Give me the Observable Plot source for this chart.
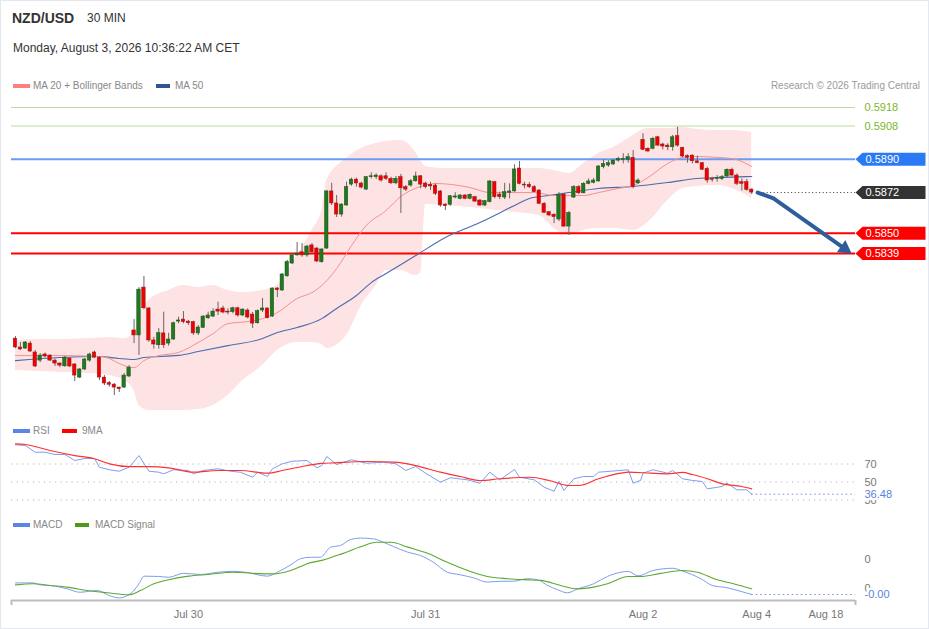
<!DOCTYPE html>
<html><head><meta charset="utf-8">
<script src="https://cdn.jsdelivr.net/npm/d3@7"></script>
<script src="https://cdn.jsdelivr.net/npm/@observablehq/plot@0.6"></script>
<style>
html,body{margin:0;padding:0;background:#fff;}
body{width:929px;height:629px;position:relative;overflow:hidden;font-family:"Liberation Sans",Arial,Helvetica,sans-serif;}
#frame{position:absolute;left:0;top:0;width:927px;height:627px;border:1px solid #e3e8ee;pointer-events:none;}
.abs{position:absolute;white-space:nowrap;line-height:14px;}
.panel{position:absolute;left:0;}
.panel svg{display:block;}
.sw{position:absolute;height:4px;}
.lt{position:absolute;font-size:10px;color:#888;line-height:12px;white-space:nowrap;}
</style></head>
<body>
<div id="frame"></div>
<div class="abs" style="left:12px;top:11px;font-size:14px;font-weight:bold;color:#333;">NZD/USD</div>
<div class="abs" style="left:87px;top:11px;font-size:12px;color:#333;">30 MIN</div>
<div class="abs" style="left:13px;top:41px;font-size:12px;color:#333;">Monday, August 3, 2026 10:36:22 AM CET</div>

<div id="main" class="panel" style="top:95px"></div>
<div id="rsi" class="panel" style="top:415px"></div>
<div id="macd" class="panel" style="top:505px"></div>

<div class="sw" style="left:13px;top:84px;width:17px;background:#ff7f7f"></div>
<div class="lt" style="left:33px;top:80px">MA 20 + Bollinger Bands</div>
<div class="sw" style="left:156px;top:84px;width:14px;background:#2f5597"></div>
<div class="lt" style="left:175px;top:80px">MA 50</div>
<div class="lt" style="right:9px;top:80px;color:#9a9a9a">Research © 2026 Trading Central</div>

<div class="sw" style="left:13px;top:429px;width:17px;background:#5b84e8"></div>
<div class="lt" style="left:33px;top:425px">RSI</div>
<div class="sw" style="left:62px;top:429px;width:15px;background:#ff0000"></div>
<div class="lt" style="left:82px;top:425px">9MA</div>

<div class="sw" style="left:13px;top:523px;width:17px;background:#5b84e8"></div>
<div class="lt" style="left:33px;top:519px">MACD</div>
<div class="sw" style="left:75px;top:523px;width:14px;background:#4c9a1a"></div>
<div class="lt" style="left:95px;top:519px">MACD Signal</div>

<script>
// ---------- candles (30 min) ----------
const openP = [
.57930,.57882,.57876,.57903,.57855,.57811,.57844,.57838,.57811,.57795,
.57780,.57822,.57790,.57719,.57763,.57811,.57855,.57827,.57719,.57689,
.57681,.57665,.57665,.57725,.57974,.57947,.58206,.58093,.57920,.57894,
.57958,.57903,.57925,.58022,.58033,.58022,.58019,.57958,.57988,.58040,
.58049,.58087,.58093,.58076,.58073,.58094,.58055,.58082,.58060,.58013,
.58082,.58093,.58049,.58201,.58190,.58267,.58336,.58380,.58397,.58380,
.58434,.58417,.58343,.58417,.58726,.58661,.58601,.58650,.58763,.58790,
.58769,.58736,.58803,.58803,.58808,.58808,.58794,.58770,.58803,.58749,
.58758,.58781,.58808,.58769,.58762,.58758,.58726,.58655,.58654,.58693,
.58686,.58704,.58686,.58695,.58677,.58650,.58668,.58776,.58709,.58693,
.58719,.58726,.58850,.58763,.58762,.58749,.58731,.58659,.58614,.58600,
.58574,.58709,.58536,.58693,.58749,.58716,.58767,.58773,.58780,.58857,
.58866,.58872,.58893,.58897,.58897,.58908,.58770,.59005,.58957,.58957,
.59019,.58980,.58974,.58965,.59025,.58962,.58917,.58920,.58889,.58879,
.58848,.58794,.58794,.58794,.58807,.58843,.58812,.58776,.58776,.58736];
const highP = [
.57941,.57909,.57914,.57914,.57865,.57849,.57852,.57844,.57819,.57800,
.57833,.57827,.57795,.57768,.57822,.57851,.57862,.57833,.57730,.57698,
.57687,.57667,.57741,.57784,.58033,.58206,.58266,.58098,.57937,.57985,
.58073,.57959,.58019,.58046,.58076,.58028,.58024,.58001,.58055,.58073,
.58091,.58127,.58105,.58091,.58100,.58100,.58091,.58091,.58071,.58085,
.58147,.58096,.58204,.58206,.58282,.58353,.58389,.58450,.58444,.58434,
.58444,.58424,.58417,.58731,.58770,.58704,.58659,.58776,.58798,.58798,
.58776,.58807,.58827,.58821,.58816,.58827,.58803,.58807,.58818,.58758,
.58790,.58830,.58812,.58776,.58776,.58767,.58731,.58659,.58704,.58719,
.58709,.58709,.58713,.58700,.58682,.58677,.58785,.58780,.58722,.58770,
.58767,.58870,.58888,.58776,.58774,.58758,.58736,.58666,.58617,.58605,
.58720,.58715,.58617,.58758,.58758,.58774,.58794,.58796,.58866,.58897,
.58893,.58897,.58911,.58930,.58930,.58947,.58794,.59038,.58962,.59019,
.59023,.58987,.58984,.59029,.59073,.58965,.58924,.58924,.58917,.58882,
.58857,.58803,.58812,.58812,.58848,.58852,.58821,.58794,.58791,.58740];
const lowP = [
.57876,.57865,.57871,.57855,.57773,.57800,.57825,.57806,.57779,.57773,
.57775,.57773,.57698,.57714,.57757,.57802,.57822,.57703,.57676,.57667,
.57622,.57638,.57660,.57719,.57903,.57839,.58087,.57910,.57873,.57873,
.57877,.57889,.57920,.58010,.58010,.58001,.57947,.57947,.57985,.58033,
.58044,.58055,.58064,.58058,.58064,.58046,.58049,.58037,.57985,.58008,
.58071,.58037,.58044,.58152,.58186,.58262,.58331,.58376,.58370,.58370,
.58389,.58340,.58338,.58412,.58650,.58585,.58587,.58646,.58754,.58749,
.58740,.58731,.58794,.58790,.58776,.58785,.58763,.58763,.58607,.58726,
.58749,.58776,.58740,.58740,.58731,.58704,.58641,.58623,.58646,.58686,
.58681,.58681,.58681,.58666,.58644,.58644,.58664,.58686,.58682,.58682,
.58686,.58722,.58762,.58740,.58742,.58719,.58655,.58607,.58590,.58552,
.58563,.58531,.58488,.58688,.58709,.58713,.58762,.58767,.58776,.58848,
.58857,.58866,.58884,.58875,.58879,.58740,.58763,.58947,.58938,.58951,
.58969,.58951,.58947,.58944,.58965,.58908,.58879,.58875,.58875,.58839,
.58770,.58776,.58776,.58785,.58801,.58807,.58758,.58728,.58726,.58709];
const closeP = [
.57882,.57871,.57909,.57860,.57779,.57838,.57833,.57811,.57795,.57784,
.57827,.57779,.57730,.57763,.57817,.57844,.57827,.57719,.57687,.57680,
.57665,.57656,.57730,.57773,.57947,.58195,.58094,.57920,.57898,.57959,
.57894,.57925,.58013,.58028,.58019,.58013,.57958,.57990,.58049,.58055,
.58076,.58076,.58071,.58071,.58094,.58055,.58087,.58044,.58011,.58078,
.58093,.58040,.58201,.58192,.58277,.58344,.58380,.58390,.58380,.58428,
.58397,.58347,.58412,.58726,.58661,.58601,.58655,.58749,.58790,.58769,
.58747,.58803,.58808,.58812,.58785,.58794,.58770,.58794,.58743,.58736,
.58781,.58807,.58763,.58749,.58753,.58713,.58650,.58646,.58700,.58699,
.58704,.58686,.58708,.58671,.58650,.58673,.58780,.58695,.58695,.58722,
.58726,.58845,.58767,.58758,.58749,.58722,.58659,.58610,.58596,.58587,
.58708,.58536,.58609,.58749,.58716,.58767,.58780,.58785,.58861,.58875,
.58879,.58893,.58902,.58902,.58911,.58749,.58785,.58951,.58942,.59011,
.58974,.58969,.58965,.59019,.58974,.58915,.58908,.58889,.58879,.58843,
.58785,.58789,.58798,.58803,.58843,.58812,.58767,.58767,.58735,.58720];

// ---------- Bollinger bands (sampled by candle index) ----------
const bandIdx = [0,5,10,15,19,22,24,25,27,31,34,37,40,43,46,50,53,57,60,62,63,67,70,73,75,78,81,82,83,87,94,101,106,109,112,115,118,121,125,128,132,135,138,142,145,149];
const bandUpper = [.57919,.57925,.57925,.57930,.57936,.57930,.57957,.58055,.58136,.58190,.58217,.58206,.58217,.58190,.58179,.58190,.58217,.58379,.58515,.58623,.58785,.58904,.58958,.58985,.58996,.59001,.58937,.58893,.58861,.58850,.58850,.58850,.58850,.58839,.58823,.58877,.58931,.58964,.59029,.59066,.59066,.59072,.59061,.59056,.59056,.59045];
const bandLower = [.57757,.57752,.57746,.57741,.57730,.57703,.57649,.57568,.57541,.57541,.57541,.57546,.57568,.57622,.57703,.57784,.57865,.57909,.57909,.57898,.57876,.57947,.58109,.58217,.58298,.58298,.58271,.58285,.58655,.58650,.58634,.58612,.58596,.58525,.58488,.58515,.58525,.58525,.58515,.58558,.58677,.58742,.58753,.58758,.58742,.58688];

const ma20Idx = [0,9,17,19,21,24,26,29,33,37,40,43,47,50,53,57,60,62,65,68,71,75,78,82,85,92,96,105,109,115,118,122,125,128,132,135,138,142,145,149];
const ma20Val = [.57838,.57838,.57833,.57822,.57795,.57773,.57811,.57838,.57855,.57909,.57957,.58011,.58022,.58038,.58071,.58147,.58179,.58217,.58309,.58433,.58542,.58623,.58699,.58753,.58769,.58747,.58720,.58720,.58704,.58704,.58720,.58742,.58758,.58801,.58877,.58910,.58915,.58910,.58904,.58861];

const ma50Idx = [0,9,17,21,24,26,33,37,43,50,53,57,62,65,69,72,75,81,87,94,101,104,108,112,118,125,132,138,142,149];
const ma50Val = [.57811,.57828,.57833,.57822,.57817,.57828,.57839,.57860,.57892,.57930,.57963,.57990,.58038,.58093,.58163,.58233,.58282,.58379,.58477,.58558,.58650,.58688,.58704,.58720,.58742,.58753,.58774,.58796,.58801,.58807];

// ---------- levels ----------
const greenLevels = [0.5918, 0.5908];
const resistanceLevel = 0.5890;
const currentPrice = 0.5872;
const supportLevels = [0.5850, 0.5839];

// ---------- forecast arrow ----------
const forecastIdx = [150.2, 153.4, 167.8];
const forecastVal = [0.5872, 0.58688, 0.58417];

// ---------- RSI ----------
const rsiLevels = [70, 50, 30];
const rsiIdx = [0,2,4,6,8,10,12,14,16,17,19,21,23,25,27,29,30,32,35,36,38,41,43.5,45.5,48,49,51,52,54,56,59,61,62,63,65,68,71,74.5,77,79,81,83,86,88,91.5,94,96,98,101,102,105,107,109,110,111,113,115,117,118,120.5,124,125,126.5,127,129,132,133,135,137,139,140,143,144,146,148,149];
const rsiVal = [91.3,90.6,83.1,83.1,80.6,80.6,73.9,76.1,76.1,66.4,63.6,62.0,66.4,79.4,62.0,60.9,59.1,63.6,62.8,59.1,62.8,64.7,62.0,60.9,55.3,60.9,56.1,64.7,70.2,73.1,73.9,65.8,68.3,78.3,69.4,74.7,70.9,72.0,70.2,62.8,67.2,59.8,49.8,54.7,52.4,48.7,60.9,52.4,63.9,55.3,52.4,44.2,39.8,50.9,40.6,53.6,56.1,56.1,60.9,62.0,63.6,48.7,51.7,59.8,63.6,59.8,62.8,53.6,51.7,50.6,42.4,45.0,48.7,41.3,41.3,36.48];
const rsiMaIdx = [0,2,7,12,16,19,23,27,31,36,41,45.5,51,54,58,62,64.5,71,76.5,81,86,90,94,98,104,108,112,114,118,122.5,124,128.5,132,135,137,140,143,147,149];
const rsiMaVal = [92.4,91.7,85.0,79.4,75.8,70.2,67.2,67.2,65.8,60.9,62.8,62.8,59.8,62.8,67.2,70.6,71.3,72.8,72.0,68.3,60.9,56.1,51.7,53.6,55.3,51.7,46.1,46.1,53.6,59.8,60.9,59.8,59.1,60.6,58.3,53.6,48.0,45.0,42.4];

// ---------- MACD ----------
const macdTicks = [0.001, 0];
const macdIdx = [0,3.6,5,7,10.5,13,16.6,19,21,23,25,26,29,31,34,37.5,41,44,47,49,51,53,55.7,57.7,59.7,61.7,63.8,65.8,67.8,69.8,72.5,74.5,76.5,79.4,82,84.6,87.4,90,92.7,95.5,98.2,100.8,103.6,105.7,107.7,109.7,111.7,113.8,117,119.8,122.5,124,126,129,133,135,138.7,141,144,146.8,149];
const macdVal = [.00018,.00018,.00011,.00009,-.00003,-.00015,-.00009,-.00027,-.00035,-.00024,.00015,.00042,.00041,.00038,.00052,.00048,.00056,.00059,.00055,.00047,.00042,.00056,.00082,.00104,.00109,.00109,.00145,.00151,.00172,.00177,.00174,.00162,.00147,.00127,.00115,.00091,.00056,.00047,.00036,.00021,.00024,.00024,.00033,.00029,.00009,-.00006,-.00017,-.00003,.00015,.00041,.00056,.00059,.00043,.00062,.00070,.00060,.00033,.00009,.00001,-.00012,-.00023];
const signalIdx = [0,3.6,7,10.5,14.6,18.6,23,25.3,28,31,35,39,44,48,52,55.7,57.7,59,62,66,70,73,76,79.4,83.4,87.4,91.5,95.5,99.6,103.6,106.3,110.3,113.8,117,119.8,124,126.5,130.6,135,138,142,145.3,149];
const signalVal = [.00011,.00015,.00009,.00003,-.00009,-.00017,-.00024,-.00009,.00015,.00029,.00042,.00048,.00056,.00052,.00050,.00062,.00076,.00086,.00098,.00121,.00147,.00162,.00162,.00145,.00123,.00091,.00062,.00041,.00033,.00029,.00027,.00009,-.00003,.00003,.00015,.00041,.00041,.00052,.00062,.00056,.00029,.00015,-.00003];

// ---------- time axis ----------
const tickIdx = [35, 83, 127, 150, 164];
const tickLabels = ["Jul 30", "Jul 31", "Aug 2", "Aug 4", "Aug 18"];

// ---------- build tables ----------
const candles = openP.map((o, i) => ({i, open: o, high: highP[i], low: lowP[i], close: closeP[i]}));
const up = candles.filter(d => d.close >= d.open);
const down = candles.filter(d => d.close < d.open);
const band = bandIdx.map((i, k) => ({i, upper: bandUpper[k], lower: bandLower[k]}));
const ma20 = ma20Idx.map((i, k) => ({i, v: ma20Val[k]}));
const ma50 = ma50Idx.map((i, k) => ({i, v: ma50Val[k]}));
const forecast = forecastIdx.map((i, k) => ({i, v: forecastVal[k]}));
const rsi = rsiIdx.map((i, k) => ({i, v: rsiVal[k]}));
const rsiMa = rsiMaIdx.map((i, k) => ({i, v: rsiMaVal[k]}));
const macd = macdIdx.map((i, k) => ({i, v: macdVal[k]}));
const signal = signalIdx.map((i, k) => ({i, v: signalVal[k]}));
const lastIdx = openP.length - 1;
const rsiLast = rsiVal[rsiVal.length - 1];
const macdLast = macdVal[macdVal.length - 1];

const xDomain = [-0.8, 170];
const FONT = "'Liberation Sans', Arial, Helvetica, sans-serif";
const common = {
  width: 929, marginLeft: 11, marginRight: 74,
  style: {fontFamily: FONT, fontSize: "11px", color: "#777", background: "transparent", overflow: "visible"}
};

// price tag shape used for the right-hand level labels
const tagSymbol = {draw(ctx) {
  const h = 6.5, p = 7, w = 70;
  ctx.moveTo(0, 0); ctx.lineTo(p, -h); ctx.lineTo(w, -h); ctx.lineTo(w, h); ctx.lineTo(p, h); ctx.closePath();
}};
const tag = (values, color) => [
  Plot.dot(values, {y: d => d, frameAnchor: "right", symbol: tagSymbol, r: 3, fill: color, stroke: "none"}),
  Plot.text(values, {y: d => d, text: d => d.toFixed(4), frameAnchor: "right", dx: 10, textAnchor: "start", fill: "#fff", fontSize: 11})
];

const mainPlot = Plot.plot({
  ...common, height: 320, marginTop: 0, marginBottom: 0,
  x: {domain: xDomain, axis: null, label: null},
  y: {domain: [0.57514, 0.59245], axis: null, label: null},
  marks: [
    Plot.areaY(band, {x: "i", y1: "lower", y2: "upper", fill: "#fde3e3", curve: "monotone-x"}),
    Plot.ruleY(greenLevels, {stroke: "#b9dca1", strokeWidth: 1}),
    Plot.ruleY([resistanceLevel], {stroke: "#6b9cf3", strokeWidth: 2}),
    Plot.ruleY(supportLevels, {stroke: "#ff0000", strokeWidth: 2}),
    Plot.line(ma50, {x: "i", y: "v", stroke: "#4a6cae", strokeWidth: 1.1, curve: "monotone-x"}),
    Plot.line(ma20, {x: "i", y: "v", stroke: "#f59090", strokeWidth: 1, curve: "monotone-x"}),
    Plot.ruleX(candles, {x: "i", y1: "low", y2: "high", stroke: "#6e6262", strokeWidth: 1}),
    Plot.rect(up, {x1: d => d.i - 0.35, x2: d => d.i + 0.35, y1: "open", y2: "close", fill: "#1f7a1f", stroke: "#1b4f1b", strokeWidth: 0.5}),
    Plot.rect(down, {x1: d => d.i - 0.35, x2: d => d.i + 0.35, y1: "open", y2: "close", fill: "#f20000", stroke: "#8a1c1c", strokeWidth: 0.5}),
    Plot.ruleY([currentPrice], {x1: lastIdx + 1, x2: xDomain[1], stroke: "#333", strokeDasharray: "1,2.5"}),
    Plot.line(forecast, {x: "i", y: "v", stroke: "#2f5d9c", strokeWidth: 4, strokeLinejoin: "round", strokeLinecap: "round"}),
    Plot.dot(forecast.slice(-1), {x: "i", y: "v", symbol: "triangle", r: 5.5, fill: "#2f5d9c", stroke: "none", rotate: 125}),
    Plot.text(greenLevels, {y: d => d, text: d => d.toFixed(4), frameAnchor: "right", dx: 9, textAnchor: "start", fill: "#7db62c", fontSize: 11}),
    ...tag([resistanceLevel], "#2b7af5"),
    ...tag([currentPrice], "#333333"),
    ...tag(supportLevels, "#ff0000")
  ]
});
document.getElementById("main").append(mainPlot);

const rsiPlot = Plot.plot({
  ...common, height: 90, marginTop: 0, marginBottom: 0,
  x: {domain: xDomain, axis: null, label: null},
  y: {domain: [23.9, 123.9], label: null},
  marks: [
    Plot.ruleY(rsiLevels, {stroke: "#b5b5b5", strokeDasharray: "1.2,4.3"}),
    Plot.line(rsi, {x: "i", y: "v", stroke: "#7f9ded", strokeWidth: 1}),
    Plot.line(rsiMa, {x: "i", y: "v", stroke: "#ff3030", strokeWidth: 1.2, curve: "monotone-x"}),
    Plot.ruleY([rsiLast], {x1: lastIdx, x2: xDomain[1], stroke: "#6f8fe6", strokeDasharray: "1.5,3"}),
    Plot.axisY({anchor: "right", ticks: rsiLevels, tickSize: 0, tickPadding: 9, fontSize: 11, label: null}),
    Plot.text([rsiLast], {y: d => d, text: d => d.toFixed(2), frameAnchor: "right", dx: 9, textAnchor: "start", fill: "#5b7fe0", stroke: "#fff", strokeWidth: 5, fontSize: 11})
  ]
});
document.getElementById("rsi").append(rsiPlot);

const macdMin = -0.000443;
const macdPlot = Plot.plot({
  ...common, height: 124, marginTop: 0, marginBottom: 29,
  x: {domain: xDomain, label: null},
  y: {domain: [macdMin, 0.0029255], label: null},
  marks: [
    Plot.line(macd, {x: "i", y: "v", stroke: "#7f9ded", strokeWidth: 1, curve: "monotone-x"}),
    Plot.line(signal, {x: "i", y: "v", stroke: "#5ea832", strokeWidth: 1.1, curve: "monotone-x"}),
    Plot.ruleY([macdLast], {x1: lastIdx, x2: xDomain[1], stroke: "#6f8fe6", strokeDasharray: "1.5,3"}),
    Plot.axisY({anchor: "right", ticks: macdTicks, tickSize: 0, tickPadding: 9, fontSize: 11, tickFormat: d => d.toFixed(0), label: null}),
    Plot.text([macdLast], {y: d => d, text: d => d.toFixed(2), frameAnchor: "right", dx: 9, textAnchor: "start", fill: "#5b7fe0", stroke: "#fff", strokeWidth: 5, fontSize: 11}),
    Plot.ruleY([macdMin], {stroke: "#bdbdbd", strokeWidth: 2}),
    Plot.axisX({ticks: xDomain, tickSize: 5, tickFormat: () => "", stroke: "#bdbdbd", strokeWidth: 2, label: null}),
    Plot.axisX({ticks: tickIdx, tickSize: 0, tickPadding: 10, fontSize: 11, tickFormat: d => tickLabels[tickIdx.indexOf(d)], label: null})
  ]
});
document.getElementById("macd").append(macdPlot);
</script>
</body></html>
